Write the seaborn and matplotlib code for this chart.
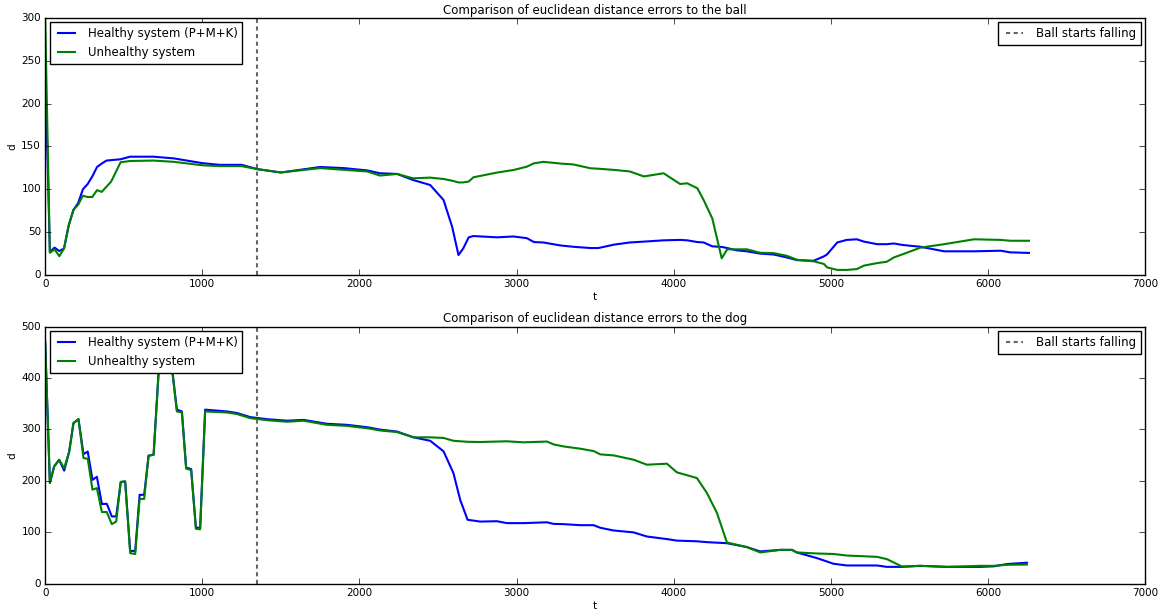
import numpy as np
import pandas as pd
import matplotlib
matplotlib.use('Agg')
import matplotlib.pyplot as plt
import seaborn as sns

# ball errors
t_ball = [0, 30, 60, 90, 120, 150, 180, 210, 240, 270, 300, 330, 360, 390, 420, 480, 540, 690, 820, 1000,
          1110, 1250, 1350, 1500, 1750, 1900, 2050, 2130, 2240, 2340, 2450, 2535, 2590, 2630, 2660, 2695, 2725, 2875, 2980, 3065,
          3110, 3170, 3280, 3360, 3470, 3520, 3620, 3720, 3810, 3935, 4040, 4085, 4150, 4190, 4245, 4305, 4340, 4400, 4465, 4550,
          4635, 4720, 4785, 4890, 4955, 4975, 5040, 5100, 5165, 5210, 5295, 5355, 5400, 5460, 5570, 5720, 5910, 6080, 6140, 6260]
ball_healthy = [245, 27, 32, 28, 31, 58, 76, 84, 100, 106, 115, 126, 130, 133.5, 134, 135, 138, 138, 136, 130.5,
                128.5, 128.5, 123.5, 119.6, 126, 124.7, 122, 118.7, 117.9, 110.9, 105, 87.5, 56, 23.3, 31, 44, 45.5, 44, 45, 43,
                38.5, 38, 34.5, 33, 31.5, 31.5, 35.5, 38, 39, 40.5, 41, 40.5, 38.5, 38, 33.5, 32.8, 31.5, 28.8, 27.7, 25,
                24, 20.5, 17.4, 16.7, 21.8, 24, 38, 41, 41.7, 39, 36, 36, 36.8, 35, 33, 27.7, 27.7, 28.4, 26.5, 25.8]
ball_unhealthy = [300, 26, 30, 22, 31, 58, 76, 82, 92.5, 91, 91, 99, 97, 103, 109, 131.5, 133, 133.5, 132, 128,
                  127, 127, 123.5, 119.6, 124.7, 122.7, 120.8, 116, 117.9, 112.8, 113.6, 112, 110, 108, 108, 109, 114, 119.5, 122.5, 126.4,
                  130.3, 132, 130, 129, 124.5, 124, 122.6, 120.8, 115, 118.7, 106.2, 107, 101.2, 87.5, 66, 19.5, 30, 30, 30, 26,
                  25.6, 22.4, 17.8, 16, 13, 9, 6, 6, 7, 11, 14, 15.5, 20.5, 24.5, 32, 36, 41.7, 41, 40, 40]

# dog errors
t_dog = [0, 30, 57, 89, 121, 153, 180, 212, 244, 271, 301, 329, 361, 392, 424, 452, 481, 509, 541, 573,
         601, 630, 658, 690, 722, 749, 790, 806, 838, 870, 897, 929, 959, 986, 1018, 1156, 1220, 1305, 1411, 1539,
         1644, 1793, 1920, 2057, 2132, 2238, 2344, 2450, 2535, 2598, 2641, 2688, 2768, 2874, 2938, 3044, 3193, 3235, 3299, 3405,
         3490, 3532, 3617, 3744, 3829, 3956, 4020, 4147, 4211, 4275, 4338, 4465, 4550, 4677, 4752, 4783, 4911, 5017, 5102, 5293,
         5356, 5452, 5568, 5738, 5950, 6035, 6120, 6247]
dog_healthy = [470, 196, 228, 241, 220, 257, 312, 320, 252, 257, 202, 208, 155, 155.6, 131, 131, 198, 199, 64, 64,
               173, 173, 249, 251, 413, 413, 440, 423, 338.5, 335, 226, 223, 110, 108, 338.5, 335, 332, 324, 320, 317,
               318.6, 311, 309, 304, 299.6, 296, 284.7, 278, 257.5, 215, 163, 124.5, 121, 121.7, 118, 118, 119.6, 116.5, 116, 114,
               114, 109, 103.7, 100, 92, 87, 84, 82.7, 81, 80, 79, 71.4, 63, 66, 66, 61, 50, 39, 35.7, 35.7,
               33, 33, 35, 33, 33, 34, 38.5, 41]
dog_unhealthy = [470, 196, 228, 241, 225, 257, 312.6, 320, 244.5, 243, 183, 186, 139.5, 139.5, 116, 121, 198, 199, 59.6, 58,
                 165, 165, 249, 251, 410, 410, 437, 420, 335, 333, 224, 221, 107, 106, 335, 333, 330, 322, 318, 315,
                 317, 309, 307, 302, 298, 295, 284.7, 284.7, 283.5, 278, 277, 276, 275.6, 276.5, 277, 275, 276.5, 271, 267, 262.6,
                 258, 251.6, 249.6, 241.2, 231.5, 233.5, 216.6, 205.6, 176.5, 137.5, 80.4, 71.4, 61, 66, 66, 61, 59, 58, 55, 52.5,
                 48, 33.7, 35, 33, 35, 35, 37, 37.5]

t_fall = 1350

plt.style.use('classic')
plt.rcParams['font.family'] = ['DejaVu Sans']

fig, axes = plt.subplots(2, 1, figsize=(11.58, 6.12), dpi=100)
fig.subplots_adjust(left=0.039, right=0.989, top=0.971, bottom=0.046, hspace=0.2)

panels = [
    (axes[0], t_ball, ball_healthy, ball_unhealthy, 300, 'Comparison of euclidean distance errors to the ball'),
    (axes[1], t_dog, dog_healthy, dog_unhealthy, 500, 'Comparison of euclidean distance errors to the dog'),
]

for ax, t, h, u, ymax, title in panels:
    df = pd.DataFrame({'t': t, 'healthy': h, 'unhealthy': u})
    sns.lineplot(data=df, x='t', y='healthy', ax=ax, color='b', lw=1.5,
                 label='Healthy system (P+M+K)')
    sns.lineplot(data=df, x='t', y='unhealthy', ax=ax, color='g', lw=1.5,
                 label='Unhealthy system')
    vl = ax.axvline(t_fall, color='0.4', ls=(0, (3, 2.5)), lw=1.5)
    ax.set_xlim(0, 7000)
    ax.set_ylim(0, ymax)
    ax.set_title(title, fontsize=8.5, pad=3)
    ax.set_xlabel('t', fontsize=7.5, labelpad=2)
    ax.set_ylabel('d', fontsize=7.5, labelpad=3)
    ax.tick_params(labelsize=7.5, pad=3)
    leg1 = ax.legend(loc='upper left', fontsize=8.5, borderaxespad=0.4)
    ax.add_artist(leg1)
    ax.legend([vl], ['Ball starts falling'], loc='upper right', fontsize=8.5,
              borderaxespad=0.4)

fig.savefig('out.png', dpi=100)
